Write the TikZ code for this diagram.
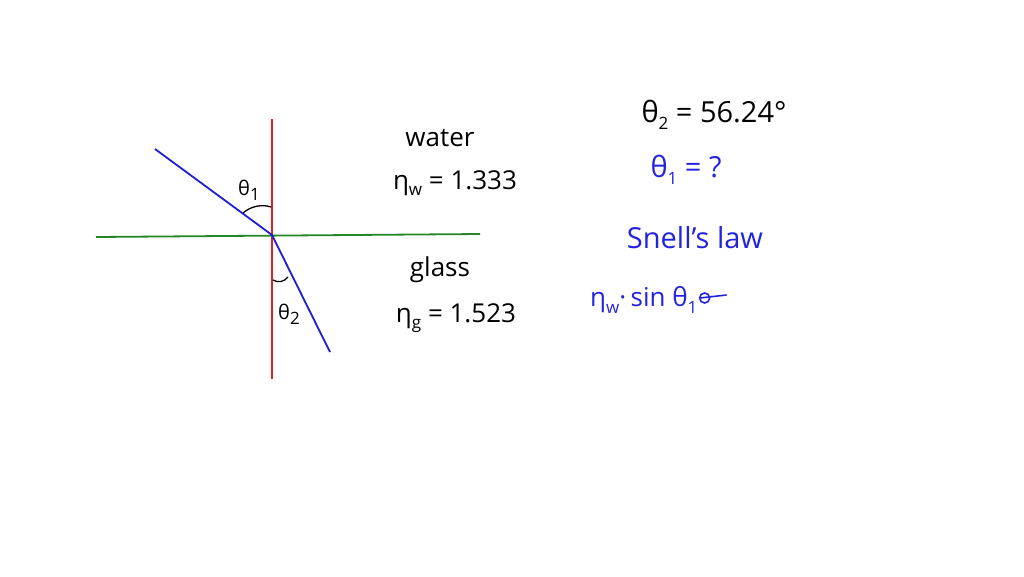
\documentclass[tikz,border=0pt]{standalone}
\usepackage{fontspec}
\setmainfont{Open Sans}
\usetikzlibrary{calc}
\begin{document}
\begin{tikzpicture}[x=1pt,y=-1pt,
  lbl/.style={inner sep=0pt, font=\fontsize{26}{28}\selectfont},
  big/.style={inner sep=0pt, font=\fontsize{29}{31}\selectfont},
  small/.style={inner sep=0pt, font=\fontsize{20}{22}\selectfont},
  ray/.style={draw=rayblue, line width=1.8pt},
  bluetxt/.style={big, text=penblue},
  anglearc/.style={draw=black, line width=1.3pt}]
\definecolor{rayblue}{RGB}{30,30,215}
\definecolor{penblue}{RGB}{35,35,225}
\definecolor{normred}{RGB}{225,30,35}
\definecolor{surfgreen}{RGB}{35,135,40}
\newcommand{\sbs}[1]{\raisebox{-0.45ex}{\fontsize{17}{18}\selectfont #1}}
\useasboundingbox[fill=white] (0,0) rectangle (1024,576);
% geometry
\coordinate (O) at (272,235);
\coordinate (ntop) at (272,119);
\coordinate (nbot) at (272,379);
\coordinate (sl) at (96,237);
\coordinate (sr) at (480,234);
\coordinate (inc) at (155,149);
\coordinate (ref) at (330,352);
\draw[normred, line width=1.8pt] (ntop) -- (nbot);
\draw[surfgreen, line width=1.8pt] (sl) -- (sr);
\draw[ray] (inc) -- (O) -- (ref);
% angle arcs
\coordinate (a1s) at (243,213);
\coordinate (a1e) at (271,207);
\draw[anglearc] (a1s) .. controls (251,206) and (262,204) .. (a1e);
\coordinate (a2s) at (273,280);
\coordinate (a2e) at (288,277);
\draw[anglearc] (a2s) .. controls (278,283) and (284,282) .. (a2e);
\node[small] (th1) at (249,190) {θ\sbs{1}};
\node[small] (th2) at (289,314) {θ\sbs{2}};
% media labels
\node[lbl] (water) at (440,138) {water};
\node[lbl] (nw) at (455,183) {η\sbs{w} = 1.333};
\node[lbl] (glass) at (440,270) {glass};
\node[lbl] (ng) at (456,318) {η\sbs{g} = 1.523};
% right column
\node[big] (t2) at (714,115) {θ\sbs{2} = 56.24°};
\node[bluetxt] (t1) at (686,170) {θ\sbs{1} = ?};
\node[bluetxt] (snell) at (695,238) {Snell’s law};
\node[lbl, text=penblue, anchor=west] (eq) at (590,300) {η\sbs{w}·\,sin θ\sbs{1}};
\coordinate (ec) at ($(eq.east)+(7,-2)$);
\coordinate (el) at ($(eq.east)+(29,-5)$);
\draw[penblue, line width=1.6pt] (ec) circle (5);
\draw[penblue, line width=1.6pt] ($(ec)+(-5,0)$) -- (el);
\end{tikzpicture}
\end{document}
